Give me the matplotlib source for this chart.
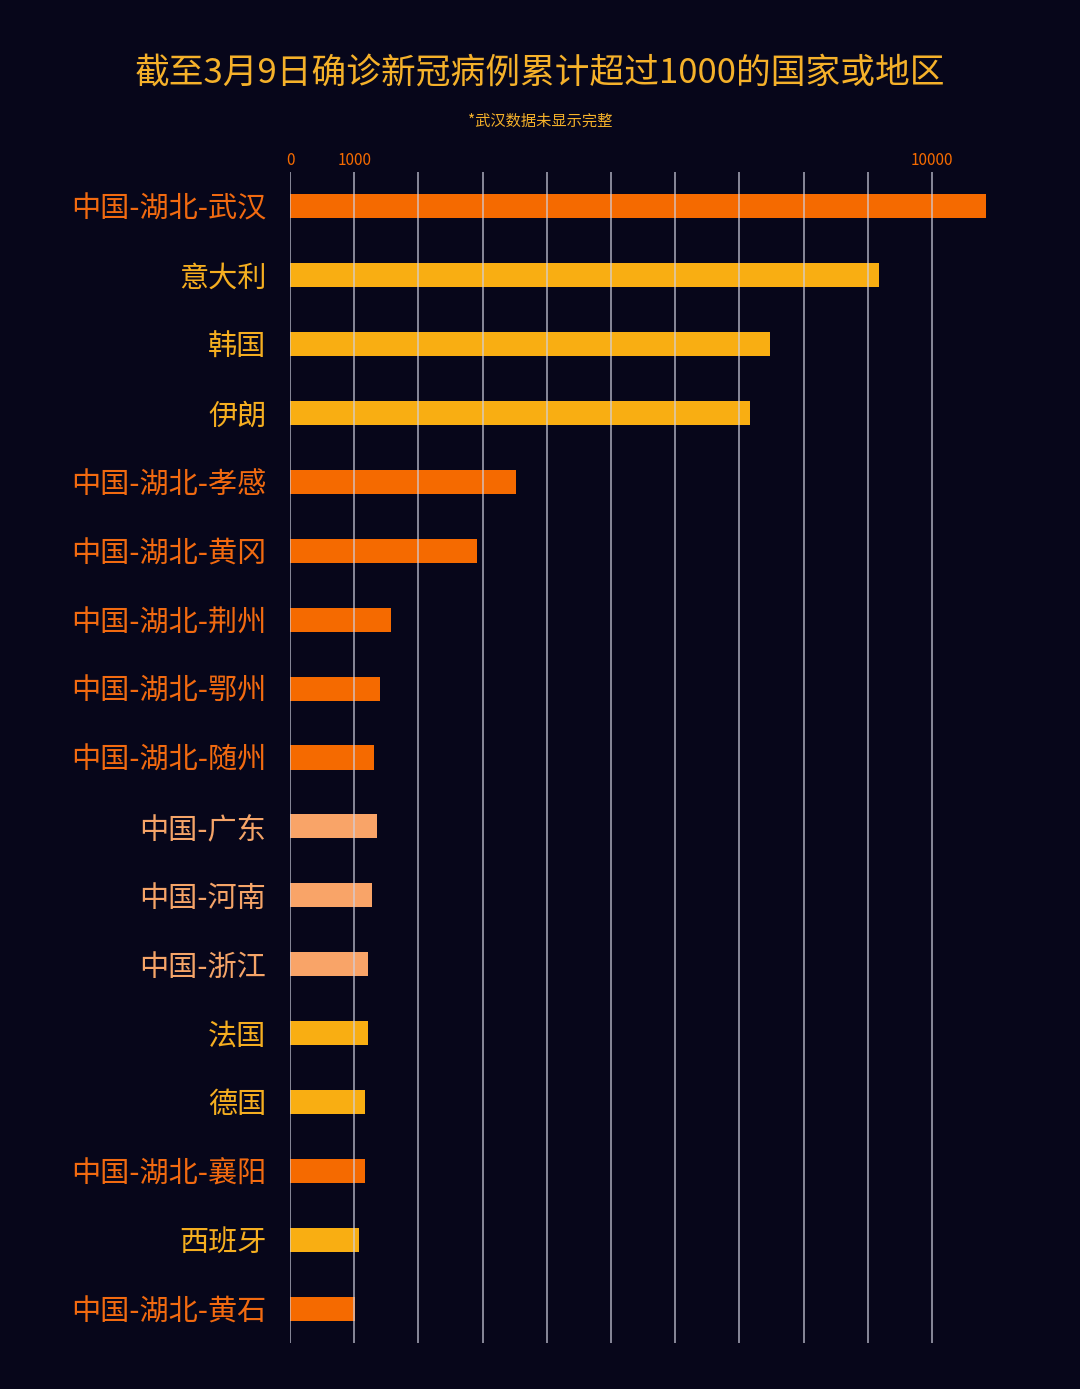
import matplotlib
matplotlib.use("Agg")
import matplotlib.pyplot as plt

plt.rcParams['font.family'] = ['Noto Sans CJK SC', 'DejaVu Sans']

labels = ["中国-湖北-武汉", "意大利", "韩国", "伊朗", "中国-湖北-孝感", "中国-湖北-黄冈",
          "中国-湖北-荆州", "中国-湖北-鄂州", "中国-湖北-随州", "中国-广东", "中国-河南",
          "中国-浙江", "法国", "德国", "中国-湖北-襄阳", "西班牙", "中国-湖北-黄石"]
values = [49912, 9172, 7478, 7161, 3518, 2907, 1580, 1394, 1307, 1352, 1272,
          1215, 1209, 1165, 1175, 1073, 1015]
groups = ["hubei", "foreign", "foreign", "foreign", "hubei", "hubei", "hubei", "hubei",
          "hubei", "china", "china", "china", "foreign", "foreign", "hubei", "foreign", "hubei"]
tick_vals = [0, 1000, 10000]
grid_vals = list(range(0, 11000, 1000))

bar_colors = {"hubei": "#F56A00", "foreign": "#F9AE12", "china": "#F9A468"}
label_colors = {"hubei": "#F26A10", "foreign": "#F5AE20", "china": "#F5A468"}
bg = "#07061A"

fig = plt.figure(figsize=(10.8, 13.89), dpi=100, facecolor=bg)
ax = fig.add_axes([290/1080, 1 - 1343/1389, (1080-290)/1080, (1343-172)/1389])
ax.set_facecolor(bg)

xmax = 10840
ax.set_xlim(0, (1080-290)/(986-290)*xmax)
ax.set_ylim(len(labels) - 0.5, -0.5)

y = list(range(len(labels)))
ax.barh(y, [min(v, xmax) for v in values], height=0.35,
        color=[bar_colors[g] for g in groups], zorder=2)

for gv in grid_vals:
    ax.axvline(gv, color="#D0D0E0", lw=1.2, alpha=0.75, zorder=3)

for spine in ax.spines.values():
    spine.set_visible(False)

ax.set_yticks(y)
ax.set_yticklabels(labels, fontsize=21, fontweight='medium')
for t, g in zip(ax.get_yticklabels(), groups):
    t.set_color(label_colors[g])
ax.tick_params(axis='y', length=0, pad=17)

ax.xaxis.tick_top()
ax.set_xticks(tick_vals)
ax.set_xticklabels([str(v) for v in tick_vals], fontsize=11, color="#F56A00")
ax.tick_params(axis='x', length=0, pad=2)

fig.text(540/1080, 1 - 73/1389, "截至3月9日确诊新冠病例累计超过1000的国家或地区",
         ha="center", va="center", fontsize=25, color="#F5B12A", fontweight='medium')
fig.text(540/1080, 1 - 121/1389, "*武汉数据未显示完整",
         ha="center", va="center", fontsize=11, color="#F5B12A")

fig.savefig("out.png", dpi=100, facecolor=bg)
